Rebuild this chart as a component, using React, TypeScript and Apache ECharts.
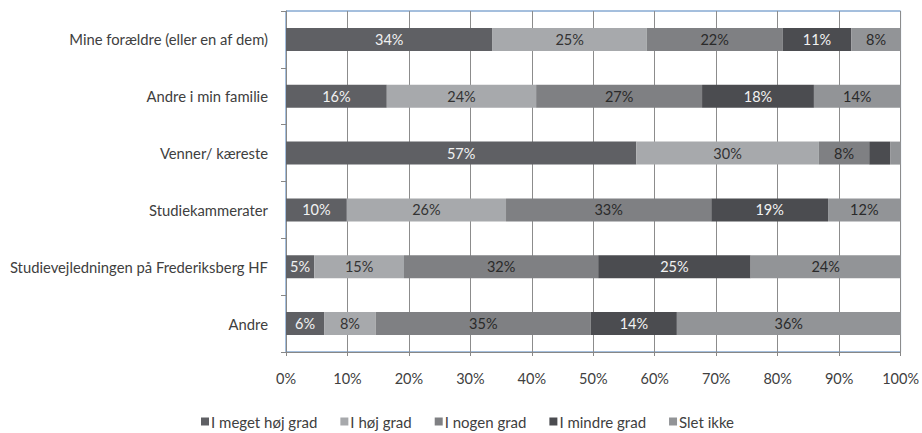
import React, { useEffect, useRef } from "react";
import * as echarts from "echarts";

const categories = [
  "Mine forældre (eller en af dem)",
  "Andre i min familie",
  "Venner/ kæreste",
  "Studiekammerater",
  "Studievejledningen på Frederiksberg HF",
  "Andre",
];

const seriesNames = ["I meget høj grad", "I høj grad", "I nogen grad", "I mindre grad", "Slet ikke"];

const megetHoej = [33.6, 16.4, 57.0, 9.9, 4.6, 6.2];
const hoej = [25.1, 24.3, 29.7, 25.9, 14.6, 8.4];
const nogen = [22.1, 27.0, 8.2, 33.4, 31.6, 35.0];
const mindre = [11.2, 18.2, 3.4, 19.0, 24.8, 14.0];
const sletIkke = [8.0, 14.1, 1.7, 11.8, 24.4, 36.4];

const xTicks = [0, 10, 20, 30, 40, 50, 60, 70, 80, 90, 100];

const colors = ["#5f6064", "#a7a9ac", "#7f8083", "#4b4c50", "#929497"];
const labelColors = ["#f2f2f2", "#333333", "#2a2a2a", "#f2f2f2", "#2a2a2a"];

const FONT = "Lato";

export default function App() {
  const ref = useRef<HTMLDivElement>(null);
  useEffect(() => {
    if (!ref.current) return;
    const chart = echarts.init(ref.current, undefined, { renderer: "svg" });
    const values = [megetHoej, hoej, nogen, mindre, sletIkke];
    chart.setOption({
      animation: false,
      textStyle: { fontFamily: FONT },
      grid: {
        left: 286,
        right: 18,
        top: 11,
        bottom: 81,
        show: true,
        borderColor: "#4a7ebb",
        borderWidth: 1,
        containLabel: false,
      },
      legend: {
        left: 201,
        top: 414,
        padding: 0,
        itemWidth: 8,
        itemHeight: 8,
        itemGap: 23,
        icon: "rect",
        textStyle: { fontFamily: FONT, fontSize: 15, color: "#404040", padding: [0, 0, 0, -3] },
        data: seriesNames,
      },
      xAxis: {
        type: "value",
        min: xTicks[0],
        max: xTicks[xTicks.length - 1],
        interval: xTicks[1] - xTicks[0],
        axisLine: { show: true, lineStyle: { color: "#878787", width: 1 } },
        axisTick: { show: true, length: 4, lineStyle: { color: "#878787" } },
        splitLine: { show: true, lineStyle: { color: "#8c8c8c", width: 1 } },
        axisLabel: {
          formatter: "{value}%",
          fontFamily: FONT,
          fontSize: 14.5,
          color: "#404040",
          margin: 19,
        },
      },
      yAxis: {
        type: "category",
        inverse: true,
        data: categories,
        axisLine: { show: true, lineStyle: { color: "#878787", width: 1 } },
        axisTick: { show: true, length: 5, lineStyle: { color: "#878787" } },
        axisLabel: {
          fontFamily: FONT,
          fontSize: 14.8,
          color: "#404040",
          margin: 18,
        },
      },
      series: seriesNames.map((name, i) => ({
        name,
        type: "bar",
        stack: "total",
        barWidth: 23,
        data: values[i],
        itemStyle: { color: colors[i] },
        label: {
          show: true,
          position: "inside",
          fontFamily: FONT,
          fontSize: 14.5,
          color: labelColors[i],
          formatter: (p: any) => (p.value < 4 ? "" : Math.round(p.value) + "%"),
        },
      })),
    });
    return () => chart.dispose();
  }, []);
  return <div ref={ref} style={{ width: 922, height: 433, position: "absolute", left: 0, top: 0 }} />;
}
